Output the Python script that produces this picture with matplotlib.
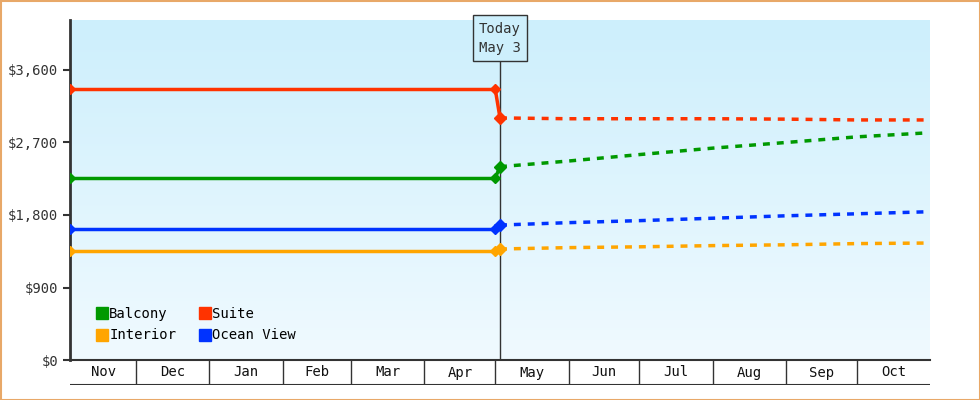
import matplotlib
matplotlib.use("Agg")
import matplotlib.pyplot as plt
import matplotlib.dates as mdates
import numpy as np
from datetime import date
from matplotlib.patches import Rectangle
from matplotlib.lines import Line2D

plt.rcParams['font.family'] = ['DejaVu Sans Mono']

categories = ["Balcony", "Suite", "Interior", "Ocean View"]
colors = {"Balcony": "#009900", "Suite": "#ff3300", "Interior": "#ffa500", "Ocean View": "#0033ff"}

hist_dates = [date(2023, 11, 3), date(2024, 5, 1)]
hist_vals = {"Balcony": [2260, 2260], "Suite": [3360, 3360],
             "Interior": [1355, 1355], "Ocean View": [1625, 1625]}

fut_dates = [date(2024, 5, 3), date(2024, 6, 1), date(2024, 7, 1), date(2024, 8, 1),
             date(2024, 9, 1), date(2024, 10, 1), date(2024, 10, 31)]
fut_vals = {"Balcony": [2400, 2470, 2550, 2630, 2700, 2770, 2820],
            "Suite": [3005, 2995, 2995, 2995, 2990, 2980, 2980],
            "Interior": [1378, 1395, 1405, 1420, 1430, 1445, 1452],
            "Ocean View": [1675, 1705, 1730, 1760, 1790, 1815, 1840]}

months = ["Nov", "Dec", "Jan", "Feb", "Mar", "Apr", "May", "Jun", "Jul", "Aug", "Sep", "Oct"]
month_starts = [date(2023, 11, 3), date(2023, 12, 1), date(2024, 1, 1), date(2024, 2, 1),
                date(2024, 3, 1), date(2024, 4, 1), date(2024, 5, 1), date(2024, 6, 1),
                date(2024, 7, 1), date(2024, 8, 1), date(2024, 9, 1), date(2024, 10, 1),
                date(2024, 11, 1)]
yticks = [0, 900, 1800, 2700, 3600]
today = date(2024, 5, 3)

W, H = 980, 400
fig = plt.figure(figsize=(9.8, 4.0), dpi=100)
fig.patch.set_facecolor("white")
fig.add_artist(Rectangle((0.5 / W, 0.5 / H), 1 - 1 / W, 1 - 1 / H, transform=fig.transFigure,
                         fill=False, edgecolor="#e8a868", lw=1.5))

L, R, T, B = 70, 930, 20, 360
ax = fig.add_axes([L / W, 1 - B / H, (R - L) / W, (B - T) / H])
xmin, xmax = mdates.date2num(month_starts[0]), mdates.date2num(month_starts[-1])
ymax = (B - T) / 72.5 * 900
ax.set_xlim(xmin, xmax)
ax.imshow(np.linspace(0, 1, 256).reshape(-1, 1), cmap=matplotlib.colors.LinearSegmentedColormap.from_list(
    "g", ["#cdeffc", "#f0faff"]), aspect="auto", extent=[xmin, xmax, 0, 1], origin="upper",
    transform=ax.get_xaxis_transform(), zorder=0)
ax.set_xlim(xmin, xmax)
ax.set_ylim(0, ymax)

for c in categories:
    hd = mdates.date2num(hist_dates)
    fd = mdates.date2num(fut_dates)
    ax.plot(hd, hist_vals[c], color=colors[c], lw=2.5, marker="D", ms=5, zorder=3)
    ax.plot([hd[-1], fd[0]], [hist_vals[c][-1], fut_vals[c][0]], color=colors[c], lw=2.5, zorder=3)
    ax.plot(fd[:1], fut_vals[c][:1], color=colors[c], marker="D", ms=6.5, zorder=4)
    ax.plot(fd, fut_vals[c], color=colors[c], lw=2.5, ls=(0, (2, 2)), zorder=3)

tn = mdates.date2num(today)
ax.axvline(tn, color="#333333", lw=1, zorder=2)
ax.text(tn, 0.946, "Today\nMay 3", ha="center", va="center", fontsize=10, color="#333333",
        linespacing=1.5, transform=ax.get_xaxis_transform(),
        bbox=dict(boxstyle="square,pad=0.45", fc="#cdeffc", ec="#333333", lw=1), zorder=5)

ax.set_xticks([])
ax.set_yticks(yticks)
ax.set_yticklabels([f"${v:,}" for v in yticks], fontsize=10, color="#333333")
ax.tick_params(axis="y", length=5, width=1.5, color="#333333")
for s in ["top", "right"]:
    ax.spines[s].set_visible(False)
ax.spines["left"].set_linewidth(2)
ax.spines["left"].set_color("#333333")
ax.spines["bottom"].set_linewidth(1.5)
ax.spines["bottom"].set_color("#333333")

handles = [Line2D([], [], ls="", marker="s", ms=8, color=colors[c]) for c in ["Balcony", "Interior", "Suite", "Ocean View"]]
ax.legend(handles, ["Balcony", "Interior", "Suite", "Ocean View"], ncol=2, loc="lower left",
          bbox_to_anchor=(0.015, 0.015), frameon=False, fontsize=10, handletextpad=0.0,
          columnspacing=1.6, labelspacing=0.55, handlelength=1)

# month boxes
ax2 = fig.add_axes([L / W, 1 - 385 / H, (R - L) / W, 25 / H])
ax2.set_xlim(xmin, xmax)
ax2.set_ylim(0, 1)
ax2.axis("off")
ms = mdates.date2num(month_starts)
for i, m in enumerate(months):
    ax2.text((ms[i] + ms[i + 1]) / 2, 0.5, m, ha="center", va="center", fontsize=10, color="#111111")
for x in ms[1:-1]:
    ax2.axvline(x, color="#333333", lw=1)
ax2.axhline(0, color="#333333", lw=1.5)

fig.savefig("out.png", dpi=100)
